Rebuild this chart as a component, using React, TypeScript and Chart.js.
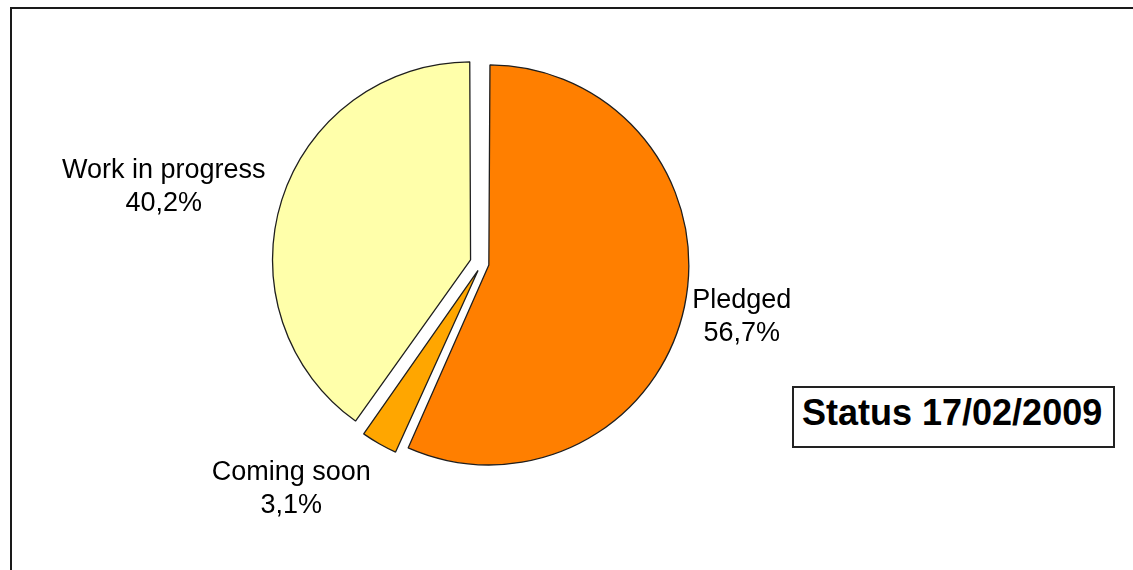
import React, { useEffect, useRef } from "react";
import { Chart, registerables } from "chart.js";

Chart.register(...registerables);

const categories = ["Pledged", "Coming soon", "Work in progress"];
const shares = [56.7, 3.1, 40.2];
const sliceColors = ["#FF7F00", "#FFA600", "#FFFFAA"];
const statusText = "Status 17/02/2009";

const FONT = '"Liberation Sans", Arial, Helvetica, sans-serif';

const labelPlugin = {
  id: "outsideLabels",
  afterDatasetsDraw(chart: any) {
    const ctx = chart.ctx;
    const meta = chart.getDatasetMeta(0);
    const labels = chart.data.labels as string[];
    const values = chart.data.datasets[0].data as number[];
    const fontSize = 27;
    const capMid = fontSize * 0.358;
    const lineH = 33;
    ctx.save();
    ctx.font = `${fontSize}px ${FONT}`;
    ctx.fillStyle = "#000";
    ctx.textAlign = "center";
    ctx.textBaseline = "alphabetic";
    meta.data.forEach((arc: any, i: number) => {
      const { x, y, startAngle, endAngle, outerRadius, circumference } = arc.getProps(
        ["x", "y", "startAngle", "endAngle", "outerRadius", "circumference"],
        true
      );
      // same geometry as Chart.js ArcElement.draw: shift by offset/4, radius grows by offset/4*fix
      const off = (arc.options.offset || 0) / 4;
      const half = (startAngle + endAngle) / 2;
      const fix = 1 - Math.sin(Math.min(Math.PI, circumference || 0));
      const drawnR = outerRadius + off * fix;
      const dx = Math.cos(half);
      const dy = Math.sin(half);
      const gap = dx < 0 ? 17 : 8;
      const cxArc = x + dx * off;
      const cyArc = y + dy * off;
      const px = cxArc + dx * (drawnR + gap);
      const py = cyArc + dy * (drawnR + gap);
      const line1 = labels[i];
      const line2 = values[i].toFixed(1).replace(".", ",") + "%";
      const w = Math.max(ctx.measureText(line1).width, ctx.measureText(line2).width);
      const h = lineH * 2;
      const cx = px + Math.sign(dx) * w / 2;
      const cy = py + dy * (h / 2);
      ctx.fillText(line1, cx, cy - lineH / 2 + capMid);
      ctx.fillText(line2, cx, cy + lineH / 2 + capMid);
    });
    ctx.restore();
  },
};

export default function App() {
  const canvasRef = useRef<HTMLCanvasElement | null>(null);

  useEffect(() => {
    if (!canvasRef.current) return;
    const chart = new Chart(canvasRef.current, {
      type: "pie",
      data: {
        labels: categories,
        datasets: [
          {
            data: shares,
            backgroundColor: sliceColors,
            borderColor: "#1e1e1e",
            borderWidth: 1.3,
            offset: [28, 32, 48],
            hoverOffset: 0,
            clip: false,
          } as any,
        ],
      },
      options: {
        responsive: false,
        animation: false,
        devicePixelRatio: 1,
        radius: 193,
        layout: { padding: { left: 230, right: 399, top: 50, bottom: 93 } },
        plugins: {
          legend: { display: false },
          tooltip: { enabled: false },
        },
        events: [],
      } as any,
      plugins: [labelPlugin],
    });
    return () => chart.destroy();
  }, []);

  return (
    <div
      style={{
        position: "absolute",
        left: 0,
        top: 0,
        width: 1133,
        height: 570,
        overflow: "hidden",
        background: "#fff",
      }}
    >
      <div
        style={{
          position: "absolute",
          left: 10,
          top: 7,
          width: 1300,
          height: 800,
          border: "2px solid #1a1a1a",
          boxSizing: "border-box",
        }}
      />
      <canvas
        ref={canvasRef}
        width={1133}
        height={570}
        style={{ position: "absolute", left: 0, top: 0, width: 1133, height: 570 }}
      />
      <div
        style={{
          position: "absolute",
          left: 792,
          top: 386,
          width: 323,
          height: 62,
          border: "2px solid #222",
          boxSizing: "border-box",
          background: "#fff",
          fontFamily: FONT,
          fontWeight: "bold",
          fontSize: 36,
          lineHeight: "50px",
          paddingLeft: 8,
          color: "#000",
          whiteSpace: "nowrap",
        }}
      >
        {statusText}
      </div>
    </div>
  );
}
